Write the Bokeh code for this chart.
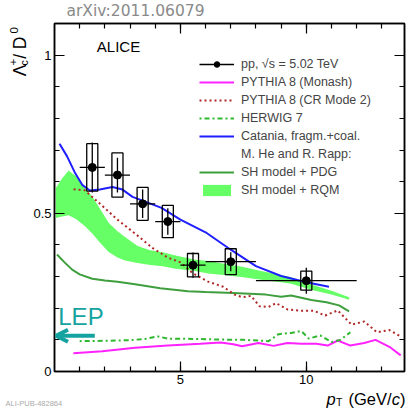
import numpy as np
from bokeh.plotting import figure
from bokeh.layouts import column, row
from bokeh.models import (Range1d, FixedTicker, LinearAxis, Label, Arrow, OpenHead,
                          Legend, LegendItem, CustomLabelingPolicy)
from bokeh.core.properties import value
from bokeh.embed import file_html
from bokeh.resources import INLINE

# ---------------- data ----------------
pt_center = [1.5, 2.5, 3.5, 4.5, 5.5, 7.0, 10.0]
pt_low = [1, 2, 3, 4, 5, 6, 8]
pt_high = [2, 3, 4, 5, 6, 8, 12]
ratio = [0.645, 0.621, 0.530, 0.474, 0.336, 0.347, 0.287]
stat_err = [0.079, 0.055, 0.045, 0.042, 0.040, 0.030, 0.041]
syst_err = [0.075, 0.070, 0.052, 0.051, 0.037, 0.041, 0.030]

monash_x = [0.75, 1.9, 3.2, 4.5, 5.8, 6.6, 7.1, 7.45, 8.1, 8.7, 9.25, 9.8, 10.4, 10.85, 11.25, 11.75, 12.3, 12.75, 13.3, 13.75]
monash_y = [0.058, 0.064, 0.075, 0.082, 0.088, 0.092, 0.086, 0.080, 0.090, 0.081, 0.090, 0.088, 0.088, 0.082, 0.098, 0.082, 0.090, 0.100, 0.078, 0.051]

cr2_x = [0.76, 1.2, 1.85, 2.5, 3.2, 3.9, 4.5, 5.0, 5.5, 6.1, 6.7, 7.15, 7.45, 7.8, 8.15, 8.5, 8.8, 9.25, 9.8, 10.3, 10.75, 11.25, 11.8, 12.3, 12.8, 13.3, 13.75]
cr2_y = [0.576, 0.573, 0.527, 0.480, 0.436, 0.390, 0.360, 0.345, 0.310, 0.284, 0.268, 0.243, 0.235, 0.239, 0.206, 0.204, 0.216, 0.196, 0.192, 0.192, 0.177, 0.193, 0.148, 0.158, 0.124, 0.131, 0.111]

herwig_x = [1.0, 2.0, 3.0, 3.6, 4.1, 4.5, 5.5, 6.5, 7.5, 8.5, 8.9, 9.4, 9.8, 10.1, 10.55, 11.0, 11.35, 11.75]
herwig_y = [0.096, 0.097, 0.099, 0.103, 0.111, 0.104, 0.103, 0.101, 0.100, 0.096, 0.118, 0.122, 0.128, 0.104, 0.114, 0.093, 0.100, 0.124]

catania_x = [0.2, 0.5, 0.8, 1.1, 1.4, 1.8, 2.3, 2.7, 3.1, 3.6, 4.25, 5.0, 6.0, 7.0, 8.0, 9.0, 10.0, 10.9]
catania_y = [0.720, 0.680, 0.630, 0.590, 0.572, 0.575, 0.583, 0.575, 0.552, 0.537, 0.517, 0.480, 0.440, 0.385, 0.333, 0.302, 0.282, 0.268]

pdg_x = [0.1, 0.4, 0.7, 1.0, 1.5, 2.0, 2.5, 3.2, 4.2, 5.3, 6.0, 7.1, 8.4, 9.0, 9.4, 10.2, 10.8, 11.3, 11.7]
pdg_y = [0.370, 0.345, 0.322, 0.307, 0.293, 0.288, 0.284, 0.276, 0.263, 0.254, 0.251, 0.248, 0.243, 0.236, 0.240, 0.226, 0.219, 0.209, 0.190]

rqm_x = [0.05, 0.3, 0.56, 0.85, 1.2, 1.5, 1.8, 2.15, 2.5, 2.8, 3.3, 3.8, 4.3, 4.8, 5.6, 6.1, 6.8, 7.5, 8.2, 9.0, 9.4, 10.3, 11.0, 11.7]
rqm_high = [0.580, 0.610, 0.635, 0.617, 0.580, 0.553, 0.515, 0.470, 0.443, 0.425, 0.397, 0.383, 0.377, 0.367, 0.353, 0.349, 0.340, 0.330, 0.318, 0.305, 0.298, 0.273, 0.255, 0.235]
rqm_low = [0.485, 0.490, 0.494, 0.482, 0.460, 0.436, 0.408, 0.378, 0.360, 0.351, 0.343, 0.337, 0.333, 0.325, 0.318, 0.310, 0.304, 0.298, 0.290, 0.282, 0.277, 0.256, 0.243, 0.227]

lep_value = 0.113

x_major = [5, 10]
x_minor = list(range(1, 14))
y_major = [0, 0.5, 1]
y_minor = [0.1, 0.2, 0.3, 0.4, 0.6, 0.7, 0.8, 0.9, 1.0]
y_labels = {0: "0", 0.5: "0.5", 1: "1"}

legend_labels = ["pp, \u221As = 5.02 TeV", "PYTHIA 8 (Monash)", "PYTHIA 8 (CR Mode 2)",
                 "HERWIG 7", "Catania, fragm.+coal.", "M. He and R. Rapp:",
                 "SH model + PDG", "SH model + RQM"]

# ---------------- styles ----------------
FONT = "Liberation Sans"
C_MONASH = "#ff22ff"
C_CR2 = "#b02828"
C_HERWIG = "#2fb82f"
C_CATANIA = "#1f1fff"
C_PDG = "#3f9f3f"
C_RQM = "#66ff66"
C_LEP = "#14a3a0"

TOP_H, BOT_H, LEFT_W = 20, 19, 30
MAIN_W, MAIN_H = 408 - LEFT_W, 408 - TOP_H - BOT_H

p = figure(width=MAIN_W, height=MAIN_H, output_backend="svg", toolbar_location=None,
           x_range=Range1d(0, 13.9), y_range=Range1d(0, 1.1),
           min_border_left=23, min_border_right=4, min_border_top=3, min_border_bottom=18)
p.xgrid.visible = False
p.ygrid.visible = False
p.outline_line_color = "black"
p.outline_line_width = 1.5
p.background_fill_color = "white"
p.border_fill_color = "white"

no_labels = CustomLabelingPolicy(code="return new Set()")

def style_axis(ax, ticker, show_labels):
    ax.ticker = ticker
    ax.major_tick_in = 10
    ax.major_tick_out = 0
    ax.minor_tick_in = 5
    ax.minor_tick_out = 0
    ax.major_tick_line_color = "black"
    ax.minor_tick_line_color = "black"
    ax.major_tick_line_width = 1.2
    ax.minor_tick_line_width = 1.2
    ax.axis_line_color = "black"
    ax.axis_line_width = 1.5
    ax.major_label_text_font = FONT
    ax.major_label_text_font_size = "13px" if show_labels else "0px"
    ax.major_label_text_color = "black"
    if not show_labels:
        ax.major_label_standoff = 0
        ax.major_label_policy = no_labels

style_axis(p.xaxis[0], FixedTicker(ticks=x_major, minor_ticks=x_minor), True)
style_axis(p.yaxis[0], FixedTicker(ticks=y_major, minor_ticks=y_minor), True)
p.xaxis[0].major_label_standoff = 3
p.yaxis[0].major_label_standoff = 3
p.yaxis[0].major_label_overrides = y_labels

top_ax = LinearAxis()
style_axis(top_ax, FixedTicker(ticks=x_major, minor_ticks=x_minor), False)
p.add_layout(top_ax, "above")
right_ax = LinearAxis()
style_axis(right_ax, FixedTicker(ticks=y_major, minor_ticks=y_minor), False)
p.add_layout(right_ax, "right")

# ---------------- models ----------------
r_rqm = p.varea(x=rqm_x, y1=rqm_low, y2=rqm_high, fill_color=C_RQM, fill_alpha=1.0)
r_pdg = p.line(pdg_x, pdg_y, line_color=C_PDG, line_width=2)
r_monash = p.line(monash_x, monash_y, line_color=C_MONASH, line_width=2)
r_herwig = p.line(herwig_x, herwig_y, line_color=C_HERWIG, line_width=2, line_dash="2 3 5 3")
r_cr2 = p.line(cr2_x, cr2_y, line_color=C_CR2, line_width=2, line_dash="2 3")
r_catania = p.line(catania_x, catania_y, line_color=C_CATANIA, line_width=2)
r_dummy = p.line([], [], line_alpha=0)

# ---------------- data points ----------------
rv = np.array(ratio)
se = np.array(stat_err)
sy = np.array(syst_err)
p.rect(x=pt_center, y=ratio, width=0.44, height=list(2 * sy), fill_alpha=0,
       line_color="black", line_width=1.3)
r_xerr = p.segment(x0=pt_low, y0=ratio, x1=pt_high, y1=ratio, line_color="black", line_width=1.3)
p.segment(x0=pt_center, y0=list(rv - se), x1=pt_center, y1=list(rv + se),
          line_color="black", line_width=1.3)
r_pts = p.scatter(pt_center, ratio, size=8, color="black", marker="circle")

# ---------------- LEP / ALICE ----------------
p.add_layout(Arrow(end=OpenHead(size=12, line_color=C_LEP, line_width=4),
                   x_start=1.6, y_start=lep_value, x_end=0.06, y_end=lep_value,
                   line_color=C_LEP, line_width=4))
p.add_layout(Label(x=0.15, y=lep_value + 0.061, text="LEP", text_font=FONT,
                   text_font_size="24px", text_color=C_LEP, text_baseline="middle"))
p.add_layout(Label(x=1.68, y=1.027, text="ALICE", text_font=FONT,
                   text_font_size="15px", text_color="black", text_baseline="middle"))

# ---------------- legend ----------------
items = [LegendItem(label=legend_labels[0], renderers=[r_xerr, r_pts]),
         LegendItem(label=legend_labels[1], renderers=[r_monash]),
         LegendItem(label=legend_labels[2], renderers=[r_cr2]),
         LegendItem(label=legend_labels[3], renderers=[r_herwig]),
         LegendItem(label=legend_labels[4], renderers=[r_catania]),
         LegendItem(label=legend_labels[5], renderers=[r_dummy]),
         LegendItem(label=legend_labels[6], renderers=[r_pdg]),
         LegendItem(label=legend_labels[7], renderers=[r_rqm])]
leg = Legend(items=items, location=(145, 174), padding=0, margin=0, spacing=4,
             glyph_width=35, glyph_height=14, label_height=14, label_standoff=7,
             label_text_font=FONT, label_text_font_size="12.5px",
             border_line_alpha=0, background_fill_alpha=0)
p.add_layout(leg)

# ---------------- text strips around the plot ----------------
def strip(w, h):
    f = figure(width=w, height=h, output_backend="svg", toolbar_location=None,
               x_range=Range1d(0, w), y_range=Range1d(0, h),
               x_axis_type=None, y_axis_type=None, min_border=0)
    f.outline_line_color = None
    f.background_fill_color = "white"
    f.border_fill_color = "white"
    return f

def put(f, x, y, text, size, color="black", style="normal", font=FONT, angle=0):
    f.text(x=[x], y=[y], text=[text], text_font=value(font), text_font_size=value(size),
           text_color=color, text_font_style=style, angle=angle,
           text_align="left", text_baseline="middle")

top_fig = strip(408, TOP_H)
put(top_fig, 66, TOP_H - 10.8, "arXiv:2011.06079", "15.5px", color="#8a8a8a", font="DejaVu Sans")

bot_fig = strip(408, BOT_H)
put(bot_fig, 5, 4.6, "ALI-PUB-482864", "7.5px", color="#aaaaaa")
put(bot_fig, 326, 408 - 398.3, "p", "16.5px", style="italic")
put(bot_fig, 335.5, 408 - 401.5, "T", "10.5px")
put(bot_fig, 348, 408 - 398.3, "(GeV/", "16.5px")
put(bot_fig, 391.2, 408 - 398.3, "c", "16.5px", style="italic")
put(bot_fig, 399.5, 408 - 398.3, ")", "16.5px")

left_fig = strip(LEFT_W, MAIN_H)
y0 = TOP_H + MAIN_H  # canvas y of left strip bottom
a = np.pi / 2
put(left_fig, 19.5, y0 - 76, "\u039B", "17.5px", angle=a)
put(left_fig, 23.8, y0 - 64.5, "c", "10.5px", angle=a)
put(left_fig, 12.5, y0 - 64.5, "+", "11.5px", angle=a)
put(left_fig, 19.5, y0 - 57.5, " / D", "17.5px", angle=a)
put(left_fig, 13, y0 - 30.5, "0", "11.5px", angle=a)

layout = column(top_fig, row(left_fig, p), bot_fig)
open("out.html", "w").write(file_html(layout, INLINE))
